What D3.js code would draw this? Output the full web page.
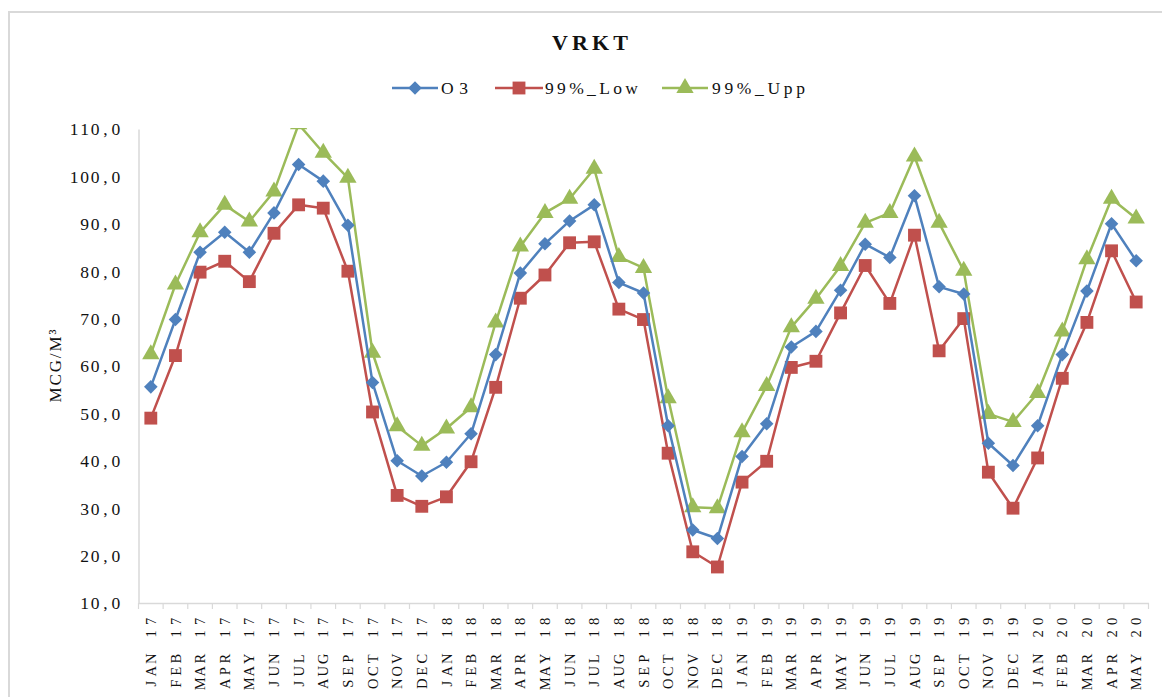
<!DOCTYPE html>
<html><head><meta charset="utf-8">
<script src="https://cdn.jsdelivr.net/npm/d3@7"></script>
<style>body{margin:0;background:#fff}svg{display:block}text{font-family:"Liberation Serif","Times New Roman",serif}</style>
</head><body>
<svg id="c" width="1162" height="697"></svg>
<script>
const categories = ["JAN 17","FEB 17","MAR 17","APR 17","MAY 17","JUN 17","JUL 17","AUG 17","SEP 17","OCT 17","NOV 17","DEC 17",
"JAN 18","FEB 18","MAR 18","APR 18","MAY 18","JUN 18","JUL 18","AUG 18","SEP 18","OCT 18","NOV 18","DEC 18",
"JAN 19","FEB 19","MAR 19","APR 19","MAY 19","JUN 19","JUL 19","AUG 19","SEP 19","OCT 19","NOV 19","DEC 19",
"JAN 20","FEB 20","MAR 20","APR 20","MAY 20"];
const o3 = [55.6,69.8,84.0,88.2,84.0,92.3,102.5,99.0,89.7,56.5,40.0,36.8,
39.7,45.7,62.4,79.6,85.8,90.6,94.0,77.6,75.4,47.4,25.4,23.6,
40.9,47.8,64.0,67.3,76.0,85.7,82.9,95.9,76.7,75.2,43.7,39.0,
47.4,62.4,75.8,90.0,82.2];
const low99 = [49.0,62.2,79.8,82.1,77.8,88.0,94.0,93.3,80.0,50.3,32.7,30.4,
32.4,39.8,55.5,74.3,79.2,86.0,86.2,72.0,69.8,41.6,20.8,17.6,
35.5,39.9,59.7,61.0,71.2,81.2,73.2,87.6,63.2,70.0,37.6,30.0,
40.6,57.4,69.2,84.3,73.5];
const upp99 = [62.5,77.2,88.2,94.0,90.5,96.8,111.0,105.0,99.7,62.8,47.3,43.2,
46.8,51.3,69.2,85.2,92.3,95.3,101.6,83.0,80.7,53.2,30.2,30.0,
46.0,55.8,68.2,74.2,81.1,90.2,92.3,104.2,90.2,80.1,49.9,48.2,
54.3,67.3,82.5,95.3,91.1];
const yTicks = [10,20,30,40,50,60,70,80,90,100,110];
const seriesNames = ["O3","99%_Low","99%_Upp"];

const series = [
  {name: seriesNames[0], values: o3, color: "#4F81BD", shape: "diamond"},
  {name: seriesNames[1], values: low99, color: "#C0504D", shape: "square"},
  {name: seriesNames[2], values: upp99, color: "#9BBB59", shape: "triangle"}
];

const svg = d3.select("#c");
const L = 138.5, R = 1148.5, T = 129, B = 603;
const ink = "#111";

svg.append("rect").attr("x",9).attr("y",12).attr("width",1170).attr("height",700)
  .attr("fill","none").attr("stroke","#d9d9d9").attr("stroke-width",2);

const x = d3.scaleBand().domain(categories).range([L, R]).padding(0);
const y = d3.scaleLinear().domain([10,110]).range([B, T]);
const cx = c => x(c) + x.bandwidth()/2;

function pitchText(sel, str, pitch, endX){
  const n = str.length;
  sel.selectAll("tspan").data(str.split("")).join("tspan")
    .attr("x", (ch,i) => endX - n*pitch + (i+0.5)*pitch)
    .attr("text-anchor","middle")
    .text(ch => ch);
}

svg.append("text").attr("x",590).attr("y",50).attr("text-anchor","middle")
  .attr("font-weight","bold").attr("font-size",22)
  .attr("textLength",76).attr("lengthAdjust","spacing").attr("fill","#111").text("VRKT");

const yAxis = d3.axisLeft(y).tickValues(yTicks).tickSize(0).tickFormat("");
const gy = svg.append("g").attr("transform",`translate(${L},0)`).call(yAxis);
gy.select(".domain").attr("stroke","#d9d9d9").attr("stroke-width",1.5);
const fmt = d => d3.format(".1f")(d).replace(".", ",");
svg.append("g").selectAll("text").data(yTicks).join("text")
  .attr("y", d => y(d)).attr("dy","0.36em")
  .attr("font-size",17.5).attr("fill",ink)
  .each(function(d){ pitchText(d3.select(this), fmt(d), 10.4, 121); });

const xAxis = d3.axisBottom(x).tickSize(0).tickFormat("");
const gx = svg.append("g").attr("transform",`translate(0,${B})`).call(xAxis);
gx.select(".domain").attr("stroke","#d9d9d9").attr("stroke-width",1.5);
gx.selectAll(".tick").remove();
const bounds = categories.map(c => x(c)).concat([R]);
gx.selectAll("line.b").data(bounds).join("line").attr("class","b")
  .attr("x1",d=>d).attr("x2",d=>d).attr("y1",0).attr("y2",6)
  .attr("stroke","#d9d9d9").attr("stroke-width",1.2);
svg.append("g").selectAll("text").data(categories).join("text")
  .attr("transform", d => `translate(${cx(d)},615) rotate(-90)`)
  .attr("dy","0.35em")
  .attr("font-size",14.5).attr("fill",ink)
  .each(function(d){ pitchText(d3.select(this), d, 12.5, 0); });

svg.append("text").attr("transform","translate(61,366) rotate(-90)")
  .attr("text-anchor","middle").attr("font-size",17)
  .attr("fill",ink).attr("textLength",73).attr("lengthAdjust","spacing").text("MCG/M³");

svg.append("clipPath").attr("id","clip").append("rect")
  .attr("x",0).attr("y",T-1).attr("width",1162).attr("height",697);

const sym = {
  diamond: d3.symbol().type(d3.symbolSquare).size(92),
  square: d3.symbol().type(d3.symbolSquare).size(165),
  triangle: d3.symbol().type(d3.symbolTriangle).size(130)
};
const rot = s => s === "diamond" ? " rotate(45)" : "";
const line = d3.line().x((d,i)=>cx(categories[i])).y(d=>y(d));

const plot = svg.append("g").attr("clip-path","url(#clip)");
[series[2], series[1], series[0]].forEach(s => {
  const g = plot.append("g");
  g.append("path").datum(s.values).attr("d",line).attr("fill","none")
    .attr("stroke",s.color).attr("stroke-width",2.5).attr("stroke-linejoin","round");
  g.selectAll("path.m").data(s.values).join("path").attr("class","m")
    .attr("transform",(d,i)=>`translate(${cx(categories[i])},${y(d)})${rot(s.shape)}`)
    .attr("d",sym[s.shape]).attr("fill",s.color);
});

const leg = [
  {s: series[0], x1: 392, x2: 438, tx: 441, tl: 27},
  {s: series[1], x1: 495, x2: 543, tx: 545, tl: 93},
  {s: series[2], x1: 662, x2: 708, tx: 712, tl: 93}
];
const lg = svg.append("g");
leg.forEach(l => {
  lg.append("line").attr("x1",l.x1).attr("x2",l.x2).attr("y1",88).attr("y2",88)
    .attr("stroke",l.s.color).attr("stroke-width",2.5);
  lg.append("path").attr("transform",`translate(${(l.x1+l.x2)/2},88)${rot(l.s.shape)}`)
    .attr("d",sym[l.s.shape]).attr("fill",l.s.color);
  lg.append("text").attr("x",l.tx).attr("y",88).attr("dy","0.35em")
    .attr("font-size",17.5).attr("fill",ink)
    .attr("textLength",l.tl).attr("lengthAdjust","spacing").text(l.s.name);
});
</script>
</body></html>
